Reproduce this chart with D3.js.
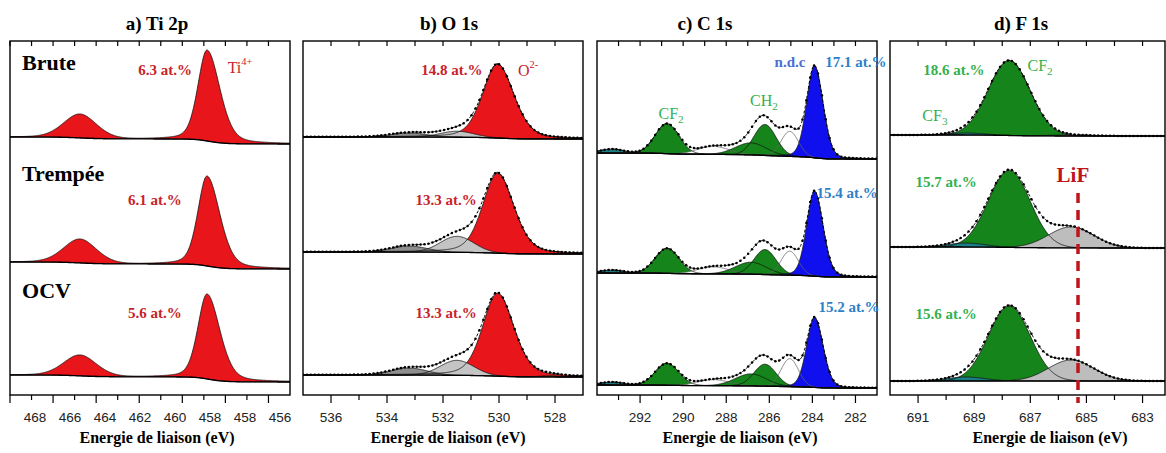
<!DOCTYPE html>
<html>
<head>
<meta charset="utf-8">
<script src="https://cdn.jsdelivr.net/npm/d3@7"></script>
<style>
  body { margin: 0; background: #fff; }
  svg text { font-family: "Liberation Serif", "Times New Roman", serif; }
  .tick-lbl { font-family: "Liberation Sans", Arial, sans-serif; font-size: 13.5px; fill: #222; }
</style>
</head>
<body>
<svg id="fig" width="1166" height="453"></svg>
<script>
// ---- values ----
const rowNames = ["Brute", "Trempée", "OCV"];
const panelTitles = ["a) Ti 2p", "b) O 1s", "c) C 1s", "d) F 1s"];
const axisTitle = "Energie de liaison (eV)";

// a) Ti 2p  (centre eV, fwhm eV, lorentz mix, low-BE tail factor)
const tiNames = ["Ti 2p1/2", "Ti 2p3/2"];
const tiCenters = [464.75, 458.85];
const tiFwhm = [1.8, 1.0];
const tiMix = [0.2, 0.3];
const tiAsym = [1.0, 1.4];
const tiHeights = [[24, 91], [24, 90], [21, 85]];
const tiBackground = [[258, 251], [133, 126], [20, 13]];
const tiTickLabels = ["468", "466", "464", "462", "460", "458", "458", "456"];
const tiPercent = ["6.3 at.%", "6.1 at.%", "5.6 at.%"];

// b) O 1s
const oNames = ["O2-", "O 531.5", "O 533", "O 528"];
const oCenters = [530.05, 531.5, 533.2, 528.2];
const oFwhm = [1.25, 1.4, 1.5, 0.8];
const oMix = [0.3, 0, 0, 0];
const oAsym = [1.1, 1, 1, 1];
const oHeights = [[74, 6, 4, 0], [80, 16, 6, 0], [83, 15, 7, 1.2]];
const oBackground = [[258, 256], [143, 141], [20, 18]];
const oTicks = [536, 534, 532, 530, 528];
const oPercent = ["14.8 at.%", "13.3 at.%", "13.3 at.%"];

// c) C 1s
const cNames = ["CF3", "CF2", "C 288.5", "C-O", "C 285", "CH2", "n.d.c"];
const cCenters = [293.3, 290.75, 288.6, 286.85, 285.05, 286.2, 283.9];
const cFwhm = [1.3, 1.3, 1.7, 1.7, 0.95, 1.2, 0.85];
const cMix = [0, 0, 0, 0, 0, 0, 0.15];
const cAsym = [1, 1, 1, 1, 1, 1, 1.1];
const cHeights = [[4, 30, 8, 12, 25, 31, 92], [3, 25, 7, 12, 24, 25, 85], [3, 22, 6, 12, 28, 22, 70]];
const cBackground = [[242, 236], [122, 118], [10, 7]];
const cTicks = [292, 290, 288, 286, 284, 282];
const cPercent = ["17.1 at.%", "15.4 at.%", "15.2 at.%"];

// d) F 1s
const fNames = ["CF2", "LiF", "CF3"];
const fCenters = [687.75, 685.55, 689.3];
const fFwhm = [1.75, 1.9, 1.6];
const fMix = [0, 0, 0];
const fAsym = [1, 1, 1];
const fHeights = [[75, 1, 2], [77, 21, 4], [75, 21, 4]];
const fBackground = [[260, 259], [148, 147], [14, 14]];
const fTicks = [691, 689, 687, 685, 683];
const fPercent = ["18.6 at.%", "15.7 at.%", "15.6 at.%"];
const lifPosition = 685.3;

// ---- styles ----
const fillOf = {
  "Ti 2p1/2": "#e8151b", "Ti 2p3/2": "#e8151b",
  "O2-": "#e8151b", "O 531.5": "#c4c4c4", "O 533": "#8e8e8e", "O 528": "#e07b00",
  "CF3": "#1b7f86", "CF2": "#15841a", "C 288.5": "#ffffff", "C-O": "#15841a",
  "C 285": "#ffffff", "CH2": "#15841a", "n.d.c": "#1010ee", "LiF": "#bdbdbd"
};
const red = "#c8232a", green = "#35b04c", blueTxt = "#2f7fc9";

const svg = d3.select("#fig");
const plotTop = 41, plotBottom = 395;
const y = d3.scaleLinear().domain([0, 354]).range([plotBottom, plotTop]);

const panels = [
  { title: panelTitles[0], x0: 10, x1: 290, domain: [468, 455], titleX: 157,
    names: tiNames, centers: tiCenters, fwhm: tiFwhm, mix: tiMix, asym: tiAsym,
    heights: tiHeights, bg: tiBackground, envelope: false,
    major: d3.range(468, 455, -2), minor: d3.range(467, 455, -2) },
  { title: panelTitles[1], x0: 303, x1: 583, domain: [537, 527], titleX: 449,
    names: oNames, centers: oCenters, fwhm: oFwhm, mix: oMix, asym: oAsym,
    heights: oHeights, bg: oBackground, envelope: true, step: 0.14,
    major: oTicks, minor: [535, 533, 531, 529] },
  { title: panelTitles[2], x0: 597, x1: 877, domain: [294, 281], titleX: 705,
    names: cNames, centers: cCenters, fwhm: cFwhm, mix: cMix, asym: cAsym,
    heights: cHeights, bg: cBackground, envelope: true, step: 0.18,
    major: cTicks, minor: [293, 291, 289, 287, 285, 283] },
  { title: panelTitles[3], x0: 890, x1: 1165, domain: [692, 682.2], titleX: 1021,
    names: fNames, centers: fCenters, fwhm: fFwhm, mix: fMix, asym: fAsym,
    heights: fHeights, bg: fBackground, envelope: true, step: 0.14,
    major: fTicks, minor: [690, 688, 686, 684] }
];
const axisTitleX = [157, 448, 740, 1050];

function profile(E, c, w, m, a) {
  const ww = E < c ? w * a : w;
  const t = 4 * (E - c) * (E - c) / (ww * ww);
  return (1 - m) * Math.exp(-Math.LN2 * t) + m / (1 + t);
}

// build one spectrum: components, shirley-type background, envelope
function spectrum(p, r) {
  const [hi, lo] = p.domain;
  const grid = d3.range(hi, lo - 0.001, -0.02);
  const comps = p.centers.map((c, k) =>
    grid.map(E => p.heights[r][k] * profile(E, c, p.fwhm[k], p.mix[k], p.asym[k])));
  const sum = grid.map((E, i) => d3.sum(comps, cp => cp[i]));
  const cum = new Array(grid.length).fill(0);
  for (let i = grid.length - 2; i >= 0; i--) cum[i] = cum[i + 1] + sum[i];
  const total = cum[0] || 1;
  const [bL, bR] = p.bg[r];
  const bg = cum.map(v => bR + (bL - bR) * v / total);
  return { grid, comps, bg, env: bg.map((b, i) => b + sum[i]) };
}

panels.forEach((p, pi) => {
  const x = d3.scaleLinear().domain(p.domain).range([p.x0, p.x1]);
  const g = svg.append("g");
  svg.append("clipPath").attr("id", "clip" + pi).append("rect")
    .attr("x", p.x0).attr("y", plotTop).attr("width", p.x1 - p.x0).attr("height", plotBottom - plotTop);
  const plot = g.append("g").attr("clip-path", "url(#clip" + pi + ")");

  rowNames.forEach((rn, r) => {
    const s = spectrum(p, r);
    const idx = d3.range(s.grid.length);
    const row = plot.append("g");
    // fills
    s.comps.forEach((cp, k) => {
      row.append("path").datum(idx)
        .attr("fill", fillOf[p.names[k]])
        .attr("d", d3.area().x(i => x(s.grid[i])).y0(i => y(s.bg[i])).y1(i => y(s.bg[i] + cp[i])));
    });
    // outlines
    s.comps.forEach((cp, k) => {
      const white = fillOf[p.names[k]] === "#ffffff";
      row.append("path").datum(idx)
        .attr("fill", "none")
        .attr("stroke", white ? "#666" : "#111")
        .attr("stroke-width", 0.8)
        .attr("d", d3.line().x(i => x(s.grid[i])).y(i => y(s.bg[i] + cp[i])));
    });
    // background
    row.append("path").datum(idx)
      .attr("fill", "none").attr("stroke", "#000").attr("stroke-width", 1.3)
      .attr("d", d3.line().x(i => x(s.grid[i])).y(i => y(s.bg[i])));
    // envelope with measured points
    if (p.envelope) {
      row.append("path").datum(idx)
        .attr("fill", "none").attr("stroke", "#000").attr("stroke-width", 1)
        .attr("stroke-dasharray", "3,2")
        .attr("d", d3.line().x(i => x(s.grid[i])).y(i => y(s.env[i])));
      const every = Math.round(p.step / 0.02);
      row.selectAll("circle").data(idx.filter(i => i % every === 0)).enter()
        .append("circle")
        .attr("cx", i => x(s.grid[i])).attr("cy", i => y(s.env[i]))
        .attr("r", 1.25).attr("fill", "#000");
    }
  });

  // ticks
  const tk = g.append("g").attr("stroke", "#000").attr("stroke-width", 1.2);
  p.major.concat(p.minor).forEach(v => {
    const isMajor = p.major.includes(v);
    tk.append("line").attr("x1", x(v)).attr("x2", x(v))
      .attr("y1", plotBottom).attr("y2", plotBottom + (isMajor ? 8 : 5));
    tk.append("line").attr("x1", x(v)).attr("x2", x(v))
      .attr("y1", plotTop).attr("y2", plotTop + 5);
  });

  // tick labels
  if (pi === 0) {
    const lp = d3.scalePoint().domain(d3.range(tiTickLabels.length)).range([p.x0 + 25, p.x1 - 10]);
    tiTickLabels.forEach((t, i) => {
      g.append("text").attr("class", "tick-lbl").attr("x", lp(i)).attr("y", 422)
        .attr("text-anchor", "middle").text(t);
    });
  } else {
    p.major.forEach(v => {
      g.append("text").attr("class", "tick-lbl").attr("x", x(v)).attr("y", 422)
        .attr("text-anchor", "middle").text(v);
    });
  }

  // frame
  g.append("rect").attr("x", p.x0).attr("y", plotTop)
    .attr("width", p.x1 - p.x0).attr("height", plotBottom - plotTop)
    .attr("fill", "none").attr("stroke", "#000").attr("stroke-width", 1.4);

  // titles
  g.append("text").attr("x", p.titleX).attr("y", 30).attr("text-anchor", "middle")
    .attr("font-weight", "bold").attr("font-size", 19).text(p.title);
  g.append("text").attr("x", axisTitleX[pi]).attr("y", 443).attr("text-anchor", "middle")
    .attr("font-weight", "bold").attr("font-size", 16).text(axisTitle);

  p.x = x;
});

// ---- annotations (placed in each panel's eV / a.u. coordinates) ----
function label(pi, E, v, parts, opts) {
  const t = svg.append("text")
    .attr("x", panels[pi].x(E)).attr("y", y(v))
    .attr("dominant-baseline", "central")
    .attr("text-anchor", opts.anchor || "middle")
    .attr("font-size", opts.size)
    .attr("font-weight", opts.bold ? "bold" : "normal")
    .attr("fill", opts.color);
  parts.forEach(pt => {
    const ts = t.append("tspan").text(pt.t);
    if (pt.sup) ts.attr("baseline-shift", "super").attr("font-size", opts.size * 0.65);
    if (pt.sub) ts.attr("baseline-shift", "sub").attr("font-size", opts.size * 0.7);
  });
}

// a) row names and percentages
const rowLabelAt = [333, 222, 105];
rowNames.forEach((n, r) =>
  label(0, 467.44, rowLabelAt[r], [{ t: n }], { size: 22, bold: true, color: "#000", anchor: "start" }));
const tiPctAt = [[460.8, 325], [461.27, 195], [461.27, 82]];
tiPercent.forEach((t, r) =>
  label(0, tiPctAt[r][0], tiPctAt[r][1], [{ t }], { size: 15, bold: true, color: red }));
label(0, 457.32, 328, [{ t: "Ti" }, { t: "4+", sup: true }], { size: 16, color: red });

// b)
const oPctAt = [[531.68, 325], [531.89, 195], [531.89, 82]];
oPercent.forEach((t, r) =>
  label(1, oPctAt[r][0], oPctAt[r][1], [{ t }], { size: 15, bold: true, color: red }));
label(1, 528.96, 325, [{ t: "O" }, { t: "2-", sup: true }], { size: 16, color: red });

// c)
label(2, 290.56, 282, [{ t: "CF" }, { t: "2", sub: true }], { size: 16, color: green });
label(2, 286.25, 295, [{ t: "CH" }, { t: "2", sub: true }], { size: 16, color: green });
label(2, 285.04, 333, [{ t: "n.d.c" }], { size: 15, bold: true, color: "#4a6fd6" });
const cPctAt = [[281.98, 333], [282.39, 202], [282.30, 88]];
cPercent.forEach((t, r) =>
  label(2, cPctAt[r][0], cPctAt[r][1], [{ t }], { size: 15, bold: true, color: blueTxt }));

// d)
const fPctAt = [[689.72, 325], [690.0, 213], [690.0, 81]];
fPercent.forEach((t, r) =>
  label(3, fPctAt[r][0], fPctAt[r][1], [{ t }], { size: 15, bold: true, color: green }));
label(3, 686.65, 330, [{ t: "CF" }, { t: "2", sub: true }], { size: 16, color: green });
label(3, 690.40, 280, [{ t: "CF" }, { t: "3", sub: true }], { size: 16, color: green });
label(3, 685.48, 220, [{ t: "LiF" }], { size: 21, bold: true, color: "#c0141c" });

svg.append("line")
  .attr("x1", panels[3].x(lifPosition)).attr("x2", panels[3].x(lifPosition))
  .attr("y1", y(202)).attr("y2", y(-8))
  .attr("stroke", "#c0141c").attr("stroke-width", 3.5).attr("stroke-dasharray", "10,7");
</script>
</body>
</html>
